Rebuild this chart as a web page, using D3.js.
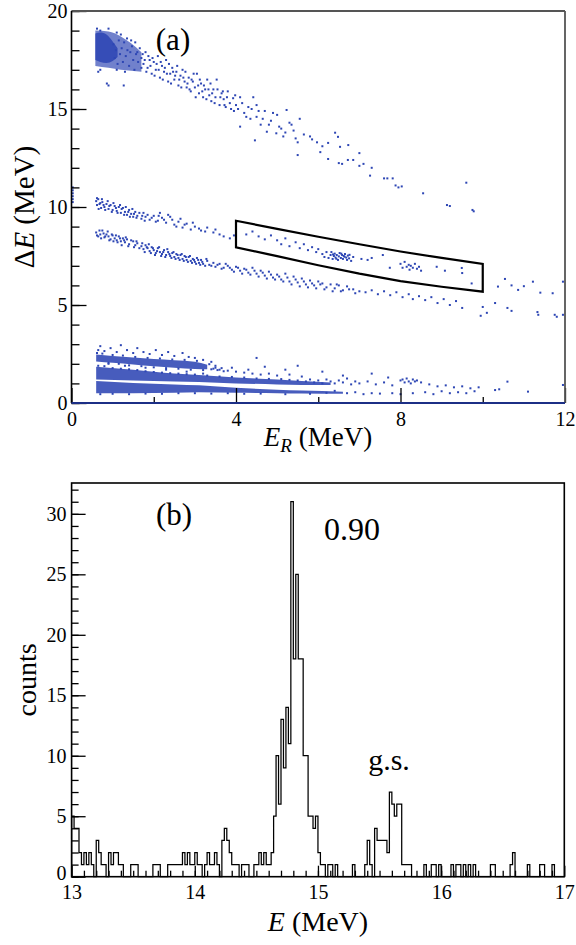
<!DOCTYPE html>
<html>
<head>
<meta charset="utf-8">
<script src="https://cdn.jsdelivr.net/npm/d3@7"></script>
<style>
body{margin:0;background:#fff;}
svg text{font-family:'Liberation Serif','DejaVu Serif','Noto Serif',serif;fill:#000;}
</style>
</head>
<body>
<svg id="fig" width="576" height="945"></svg>
<script>
// ---- panel (a): dE-E scatter ----
// dense cores as [E_R, dE_low, dE_high]
var topCore = [[0.58,17.5,18.85],[0.7,17.4,18.9],[0.85,17.35,18.8],[1.0,17.45,18.45],[1.12,17.65,18.1]];
var topHalo = [[0.58,17.2,19.0],[0.9,17.1,18.95],[1.2,17.0,18.7],[1.45,16.95,18.35],[1.7,16.9,17.9]];
var lowA = [[0.6,2.12,2.48],[1.0,2.05,2.4],[1.5,1.97,2.32],[2.0,1.88,2.24],[2.5,1.8,2.18],[3.0,1.74,2.1],[3.3,1.72,1.95]];
var lowB = [[0.6,1.2,1.85],[1.5,1.15,1.7],[2.5,1.1,1.5],[3.1,1.07,1.43],[4.0,1.0,1.3],[5.0,0.95,1.2],[5.6,0.92,1.12],[6.3,0.92,1.04]];
var lowC = [[0.6,0.5,1.12],[1.5,0.5,1.02],[2.5,0.52,0.95],[3.1,0.55,0.9],[4.0,0.52,0.78],[5.0,0.5,0.68],[5.6,0.48,0.64],[6.6,0.47,0.58]];

var topPts = [[0.62,19.1],[0.7,19.0],[0.9,19.1],[1.1,18.9],[1.2,18.8],[1.35,18.6],[1.45,18.5],[1.55,18.4],
 [0.65,16.9],[0.7,17.0],[0.86,16.3],[0.9,16.2],[1.27,16.2],[1.3,16.9],[1.1,17.0],
 [1.6,17.9],[1.7,17.6],[1.75,17.3],[1.8,17.9],[1.85,17.1],[1.9,17.5],[1.95,16.8],[2.0,17.4],[2.05,17.0],[2.1,17.7],
 [2.15,16.6],[2.2,17.2],[2.25,16.9],[2.3,17.5],[2.35,16.4],[2.4,16.8],[2.45,17.1],[2.5,16.5],[2.55,16.9],[2.6,16.2],
 [2.65,16.7],[2.7,17.0],[2.75,16.4],[2.8,16.1],[2.85,16.6],[2.9,15.9],[2.95,16.4],[3.0,16.1],[3.05,16.8],[3.1,15.8],
 [3.15,16.3],[3.2,15.6],[3.25,16.0],[3.3,16.5],[3.35,15.7],[3.4,15.4],[3.45,16.0],[3.5,15.6],[3.53,16.5],[3.6,15.2],
 [3.65,15.8],[3.7,15.5],[3.75,15.1],[3.8,15.9],[3.85,15.3],[3.93,15.55],[3.95,14.9],[4.0,15.2],[4.1,14.1],[4.1,15.6],
 [4.2,14.8],[4.3,15.1],[4.35,14.5],[4.42,15.6],[4.46,13.4],[4.5,14.6],[4.5,15.2],[4.6,14.2],[4.7,14.9],[4.75,13.84],
 [4.85,14.4],[4.98,13.76],[5.0,14.7],[5.1,14.0],[5.15,13.6],[5.23,14.95],[5.3,14.3],[5.4,13.9],[5.5,12.65],[5.5,13.3],
 [5.55,14.5],[5.65,13.7],[5.8,13.6],[5.85,13.45],[5.97,13.3],[6.05,12.8],[6.1,13.1],[6.24,12.45],[6.24,13.27],[6.41,13.79],
 [6.48,13.58],[6.5,12.24],[6.53,13.07],[6.58,12.2],[6.73,13.16],[6.72,12.4],[6.85,12.4],[7.0,12.1],[7.0,12.75],[7.1,12.2],
 [7.26,11.6],[7.3,12.0],[7.6,11.46],[7.68,11.46],[7.81,11.46],[7.88,11.1],[7.95,11.0],[8.03,11.05],[8.55,10.7],[9.13,10.1],
 [9.2,10.05],[9.6,11.24],[9.75,9.85],[9.78,9.78],
 [1.02,18.3],[1.05,17.6],[1.08,18.0],[1.12,17.3],[1.15,18.5],[1.18,17.8],[1.22,18.1],[1.25,17.4],[1.28,18.4],[1.32,17.7],
 [1.36,18.0],[1.4,17.2],[1.43,17.9],[1.47,18.2],[1.5,17.5],[1.53,17.0],[1.57,17.8],[1.62,17.4],[1.66,18.1],[1.7,17.1],
 [1.73,17.8],[1.78,17.5],[1.82,16.9],[1.87,17.7],[1.92,17.2],[1.97,17.6],[2.02,16.7],[2.07,17.3],[2.12,17.0],[2.17,17.4],
 [2.22,16.5],[2.27,17.1],[2.32,16.8],[2.37,17.3],[2.42,16.3],[2.47,16.9],[2.52,16.7],[2.57,17.2],[2.62,16.5],[2.67,16.1],
 [2.72,16.6],[2.77,16.9],[2.82,16.3],[2.87,16.0],[2.92,16.5],[2.97,16.8],[3.02,15.6],[3.08,16.2],[3.12,16.5],[3.18,15.9],
 [3.22,16.2],[3.28,15.5],[3.33,16.0],[3.38,16.3],[3.42,15.8],[3.48,15.3],[3.55,16.0],[3.62,15.6],[3.68,15.9],[3.72,15.2],
 [3.78,15.6],[3.88,15.0],[3.98,15.7],[4.05,15.0],[4.15,15.3],[4.25,14.6],[4.38,15.0],[4.55,14.9],[4.65,14.5],[4.8,14.2],
 [4.9,14.8],[5.05,14.1],[5.2,13.8],[5.35,14.2],[5.45,13.5]];

var mid1 = [[0.6,10.3],[0.62,10.1],[0.65,10.4],[0.7,10.2],[0.72,9.95],[0.75,10.25],[0.8,10.0],[0.85,10.15],[0.9,9.9],[0.95,10.1],
 [1.0,9.85],[1.05,10.05],[1.1,9.8],[1.15,10.0],[1.2,9.7],[1.25,9.95],[1.3,9.75],[1.35,9.6],[1.4,9.85],[1.45,9.65],
 [1.5,9.5],[1.55,9.75],[1.6,9.55],[1.7,9.4],[1.75,9.7],[1.8,9.5],[1.9,9.35],[2.0,9.55],[2.1,9.3],[2.15,9.7],
 [2.2,9.45],[2.3,9.2],[2.35,9.6],[2.45,9.35],[2.5,9.1],[2.6,9.25],[2.7,8.95],[2.8,9.15],[2.9,8.85],[3.0,9.0],
 [3.15,8.8],[3.3,8.95],[3.45,8.7],[3.6,8.6],[3.85,8.4],[3.95,8.55],
 [0.62,10.45],[0.66,9.9],[0.68,10.15],[0.74,10.4],[0.78,10.1],[0.82,9.85],[0.88,10.3],[0.92,10.05],[0.98,9.75],[1.02,10.2],
 [1.08,9.95],[1.12,9.7],[1.18,10.1],[1.22,9.9],[1.28,9.6],[1.32,10.0],[1.38,9.75],[1.42,9.5],[1.48,9.9],[1.52,9.65],
 [1.58,9.45],[1.65,9.7],[1.72,9.55],[1.78,9.3],[1.85,9.6],[1.95,9.45],[2.05,9.25],[2.12,9.55],[2.25,9.35],[2.4,9.5],
 [2.55,9.0],[2.65,9.4],[2.75,9.1],[2.95,9.2],[3.1,8.9],[3.25,8.75],[3.5,8.85],[3.7,8.5],
 [4.25,8.6],[4.4,8.75],[4.55,8.5],[4.7,8.35],[4.85,8.55],[5.0,8.3],[5.1,8.1],[5.2,8.4],[5.3,8.0],[5.45,8.2],
 [5.55,7.9],[5.65,8.1],[5.75,7.8],[5.85,7.95],[5.95,7.7],[6.0,7.85],
 [6.1,7.6],[6.15,7.45],[6.2,7.7],[6.25,7.4],[6.3,7.55],[6.32,7.7],[6.35,7.35],[6.38,7.5],[6.4,7.62],[6.42,7.42],
 [6.45,7.55],[6.48,7.3],[6.5,7.48],[6.52,7.65],[6.55,7.4],[6.58,7.55],[6.6,7.35],[6.62,7.5],[6.65,7.6],[6.68,7.42],
 [6.7,7.3],[6.72,7.52],[6.75,7.38],[6.8,7.25],[6.85,7.45],[6.36,7.58],[6.44,7.36],[6.56,7.62],[6.64,7.46],[6.76,7.56],
 [7.05,7.35],[7.2,7.3],[7.3,7.4],[7.57,7.55],[7.74,6.9],
 [8.0,7.1],[8.05,6.9],[8.1,7.2],[8.15,6.95],[8.2,7.05],[8.22,6.8],[8.25,7.0],[8.3,6.9],[8.35,7.1],[8.4,6.85],
 [8.45,6.95],[8.5,6.75],[8.88,6.95],[9.08,6.75],[9.49,6.89],[9.5,6.63],[9.73,6.1],
 [10.37,5.94],[10.54,6.33],[10.7,6.0],[10.86,5.77],[11.0,5.96],[11.22,6.19],[11.4,5.63],[11.7,5.6],[11.95,6.19]];

var mid2 = [[0.6,8.7],[0.65,8.5],[0.7,8.6],[0.75,8.8],[0.8,8.45],[0.85,8.6],[0.9,8.5],[0.95,8.35],[1.0,8.55],[1.05,8.4],
 [1.1,8.3],[1.15,8.5],[1.2,8.25],[1.25,8.4],[1.3,8.2],[1.35,8.35],[1.4,8.1],[1.5,8.25],[1.55,8.05],[1.6,8.15],
 [1.7,8.0],[1.75,7.85],[1.8,8.05],[1.85,7.9],[1.9,7.75],[1.95,7.95],[2.0,7.8],[2.05,7.65],[2.1,7.9],[2.15,7.7],
 [2.2,7.6],[2.25,7.8],[2.3,7.55],[2.35,7.7],[2.4,7.5],[2.45,7.65],[2.5,7.45],[2.55,7.6],[2.6,7.4],[2.65,7.55],
 [2.7,7.35],[2.75,7.5],[2.8,7.3],[2.85,7.45],[2.9,7.25],[2.95,7.35],[3.0,7.2],[3.05,7.4],[3.1,7.15],[3.15,7.3],
 [3.2,7.1],[3.3,7.25],[3.35,7.05],[3.45,7.15],[3.5,6.95],[3.6,7.1],[3.7,6.9],[3.8,7.0],[3.9,6.8],[4.0,6.95],
 [4.1,6.75],[4.2,6.85],[4.3,6.65],[4.4,6.9],[4.5,6.6],[4.6,6.75],[4.7,6.5],[4.8,6.7],[4.9,6.4],[5.0,6.55],
 [5.1,6.3],[5.2,6.6],[5.3,6.2],[5.4,6.45],[5.5,6.15],[5.6,6.35],[5.7,6.05],[5.8,6.25],[5.9,6.0],[6.0,6.2],
 [6.1,6.1],[6.2,5.9],[6.3,6.05],[6.4,5.85],[6.5,6.0],[6.6,5.75],[6.7,5.95],[6.85,5.8],[7.0,5.7],[7.3,5.75],
 [7.45,5.55],[7.6,5.7],[7.75,5.5],[7.9,5.65],[8.05,5.4],[8.2,5.55],[8.3,5.3],[8.45,5.45],[8.6,5.25],[8.75,5.4],
 [8.9,5.1],[9.05,5.3],[9.2,5.0],[9.35,5.2],[9.5,4.85],[9.95,4.45],[10.0,4.9],[10.1,4.6],[10.3,5.1],[10.6,4.85],
 [10.7,4.7],[11.33,4.64],[11.35,4.5],[11.75,4.5],[11.8,4.4],[11.95,4.5],
 [0.62,8.55],[0.68,8.8],[0.72,8.4],[0.78,8.65],[0.82,8.5],[0.88,8.75],[0.92,8.3],[0.98,8.6],[1.02,8.25],[1.08,8.55],
 [1.12,8.2],[1.18,8.4],[1.22,8.05],[1.28,8.3],[1.32,8.45],[1.38,8.0],[1.45,8.3],[1.52,7.95],[1.58,8.25],[1.65,7.9],
 [1.72,8.15],[1.78,7.7],[1.83,7.95],[1.88,8.1],[1.93,7.65],[1.98,7.9],[2.03,7.55],[2.08,7.75],[2.13,7.95],[2.18,7.5],
 [2.23,7.7],[2.28,7.45],[2.33,7.85],[2.38,7.6],[2.43,7.4],[2.48,7.7],[2.53,7.35],[2.58,7.55],[2.63,7.3],[2.68,7.6],
 [2.73,7.25],[2.78,7.45],[2.83,7.2],[2.88,7.5],[2.93,7.15],[2.98,7.3],[3.03,7.1],[3.08,7.3],[3.13,7.05],[3.18,7.2],
 [3.25,7.0],[3.28,7.35],[3.4,7.0],[3.55,7.05],[3.65,6.85],[3.75,7.1],[3.85,6.9],[3.95,6.7],[4.05,6.9],[4.15,6.6],
 [4.25,6.8],[4.35,6.55],[4.45,6.75],[4.55,6.45],[4.65,6.65],[4.75,6.35],[4.85,6.55],[4.95,6.3],[5.05,6.45],[5.15,6.2],
 [5.25,6.4],[5.35,6.05],[5.45,6.3],[5.55,5.95],[5.65,6.2],[5.75,5.9],[5.85,6.1],[5.95,5.85],[6.05,6.05],[6.15,5.8],
 [6.35,5.7],[6.45,6.05],[6.55,5.7],[6.75,5.8],[6.9,5.6],[7.15,5.65]];

var lowPts = [[0.65,2.7],[0.7,2.9],[0.8,2.65],[0.95,2.8],[1.1,2.6],[1.2,2.95],[1.35,2.7],[1.5,2.55],[1.6,2.8],[1.75,2.6],
 [1.9,2.5],[2.05,2.7],[2.2,2.45],[2.35,2.6],[2.5,2.4],[2.7,2.55],[2.85,2.35],[3.0,2.3],[3.2,2.2],[3.4,2.1],
 [0.9,2.0],[1.3,1.9],[1.8,1.8],[2.3,1.7],[2.8,1.6],[3.2,1.5],
 [3.45,1.75],[3.6,1.7],[3.8,1.65],[4.0,1.6],[4.2,1.55],[4.4,1.5],[4.6,1.45],[4.8,1.5],[5.0,1.4],[5.3,1.45],
 [5.6,1.35],[3.5,1.9],[3.9,1.8],[4.3,1.7],[4.5,2.3],[4.7,1.85],
 [5.7,1.1],[5.8,1.2],[5.9,1.05],[6.0,1.15],[6.1,1.0],[6.2,1.2],[6.3,1.1],[6.4,1.0],[6.5,1.15],[6.6,1.05],
 [6.7,1.25],[6.8,0.95],[6.9,1.1],[7.0,1.0],[7.2,1.1],[7.4,0.95],[7.6,1.05],[7.8,0.9],[8.0,1.15],[8.05,1.2],
 [8.1,1.05],[8.15,1.25],[8.2,1.1],[8.25,1.0],[8.3,1.2],[8.35,1.1],[8.4,1.15],[8.5,1.05],[8.7,0.95],[8.9,0.85],
 [9.1,0.9],[9.3,0.8],[9.5,0.85],[9.7,0.75],[9.9,0.8],[10.4,0.7],[10.6,1.09],[10.3,0.66],[11.1,0.58],[11.95,0.92],
 [6.7,0.5],[6.9,0.55],[7.1,0.45],[7.3,0.5],[7.5,0.48],[7.8,0.5],[8.0,0.45],[8.3,0.5],[8.6,0.55],[8.8,0.45],
 [9.0,0.6],[9.2,0.5],[9.4,0.55],[9.6,0.5],[9.8,0.6],
 [5.2,1.7],[6.1,1.6],[5.5,1.9],[7.7,1.3],[6.6,1.4],[7.3,1.5],
 [0.62,2.55],[0.75,2.52],[0.9,2.05],[1.0,2.45],[1.15,2.0],[1.25,2.42],[1.4,1.92],[1.55,2.35],[1.7,1.88],[1.85,2.3],
 [2.0,1.82],[2.15,2.27],[2.3,1.78],[2.45,2.22],[2.6,1.75],[2.75,2.2],[2.9,1.7],[3.05,2.15],[3.2,1.68],[3.35,1.98],
 [3.4,1.72],[3.5,1.8],[3.55,1.68],[3.65,1.78],[3.7,1.62],
 [0.65,1.9],[0.8,1.88],[1.0,1.78],[1.2,1.75],[1.4,1.72],[1.6,1.68],[1.8,1.62],[2.0,1.58],[2.2,1.55],[2.4,1.52],
 [2.6,1.5],[2.8,1.47],[3.0,1.45],[3.3,1.4],[3.6,1.35],[3.9,1.33],[4.2,1.3],[4.5,1.25],[4.8,1.23],[5.1,1.22],
 [5.3,1.18],[5.5,1.15],
 [0.7,0.45],[1.0,0.47],[1.4,0.45],[1.8,0.48],[2.2,0.47],[2.6,0.5],[3.0,0.5],[3.4,0.48],[3.8,0.5],[4.2,0.47],
 [4.6,0.48],[5.2,0.45],[5.8,0.47],[6.2,0.52],[6.4,0.62],
 [0.03,10.25],[0.03,10.4],[0.03,10.55],[0.03,10.7],[0.03,10.85],[0.03,11.0]];

// graphical cut drawn in (a)
var cutTop = [[4,9.3],[5,8.88],[6,8.48],[7,8.1],[8,7.73],[9,7.4],[10,7.09]];
var cutBottom = [[4,7.94],[5,7.49],[6,7.03],[7,6.6],[8,6.22],[9,5.93],[10,5.68]];

// ---- panel (b): histogram, 200 bins of 0.02 MeV from 13 to 17 ----
var binStart = 13, binWidth = 0.02;
var counts = [
 5,4,4,2,1,2,1,2,1,0, 3,2,1,1,0,2,1,2,2,1, 1,0,0,0,1,1,1,0,0,0, 0,0,0,1,1,1,0,0,0,1, 1,1,1,1,1,2,1,2,1,1,
 2,1,1,0,1,2,1,1,2,1, 0,3,4,3,2,1,1,1,0,1, 1,1,0,0,1,1,2,1,2,1, 1,2,5,10,6,13,9,14,11,31, 18,25,18,18,10,10,5,5,4,5,
 2,1,1,0,1,1,0,1,0,0, 0,0,0,0,1,0,0,0,0,1, 3,1,0,4,3,3,3,3,2,7, 6,5,6,6,1,1,1,1,0,0, 0,0,0,1,0,0,1,1,0,1,
 0,0,0,0,1,0,1,1,0,1, 0,1,0,1,0,0,0,0,0,0, 1,1,0,0,0,0,0,0,1,2, 0,0,0,0,0,1,0,0,0,0, 1,1,0,0,0,1,0,0,0,0];

var yTicksA = [0,5,10,15,20];
var xTicksA = [0,4,8,12];
var yTicksB = [0,5,10,15,20,25,30];
var xTicksB = [13,14,15,16,17];

var svg = d3.select('#fig');
var blue = '#2d46b4';
var serif = "'Liberation Serif','DejaVu Serif','Noto Serif',serif";

// ===== panel a =====
var xa = d3.scaleLinear().domain([0,12]).range([71.5,565]);
var ya = d3.scaleLinear().domain([0,20]).range([403,11]);
var ga = svg.append('g');

var band = d3.area()
	.x(function(d){ return xa(d[0]); })
	.y0(function(d){ return ya(d[1]); })
	.y1(function(d){ return ya(d[2]); })
	.curve(d3.curveMonotoneX);

ga.append('path').attr('d', band(topHalo)).attr('fill', blue).attr('opacity', 0.68);
[topCore, lowA, lowB, lowC].forEach(function(b){
	ga.append('path').attr('d', band(b)).attr('fill', blue).attr('opacity', 0.88);
});

var pts = topPts.concat(mid1, mid2, lowPts);
ga.append('g').selectAll('rect')
	.data(pts)
	.join('rect')
	.attr('x', function(d){ return xa(d[0]) - 1; })
	.attr('y', function(d){ return ya(d[1]) - 1; })
	.attr('width', 2)
	.attr('height', 2)
	.attr('fill', blue);

var cutLine = d3.line()
	.x(function(d){ return xa(d[0]); })
	.y(function(d){ return ya(d[1]); });
ga.append('path')
	.attr('d', cutLine(cutTop.concat(cutBottom.slice().reverse())) + 'Z')
	.attr('fill', 'none')
	.attr('stroke', '#000')
	.attr('stroke-width', 2.2);

function styleAxis(g){
	g.attr('font-size', 20).attr('font-family', serif);
	g.select('.domain').remove();
	g.selectAll('line').attr('stroke-width', 1.3);
}

// minor / major ticks, pointing inwards
ga.append('g').attr('transform', 'translate(71.5,0)')
	.call(d3.axisLeft(ya).tickValues(d3.range(0, 21, 1)).tickSize(-8).tickFormat(''))
	.call(styleAxis);
ga.append('g').attr('transform', 'translate(71.5,0)')
	.call(d3.axisLeft(ya).tickValues(yTicksA).tickSize(-15).tickPadding(4).tickFormat(d3.format('d')))
	.call(styleAxis);
ga.append('g').attr('transform', 'translate(0,403)')
	.call(d3.axisBottom(xa).tickValues([2,6,10]).tickSize(-6).tickFormat(''))
	.call(styleAxis);
ga.append('g').attr('transform', 'translate(0,403)')
	.call(d3.axisBottom(xa).tickValues(xTicksA).tickSize(-15).tickPadding(9).tickFormat(d3.format('d')))
	.call(styleAxis);

// frame
ga.append('line').attr('x1',71.5).attr('x2',565).attr('y1',11).attr('y2',11).attr('stroke','#555').attr('stroke-width',1.8);
ga.append('line').attr('x1',565).attr('x2',565).attr('y1',11).attr('y2',403).attr('stroke','#555').attr('stroke-width',1.8);
ga.append('line').attr('x1',71.5).attr('x2',71.5).attr('y1',11).attr('y2',403).attr('stroke','#000').attr('stroke-width',1.6);
ga.append('line').attr('x1',71.5).attr('x2',565).attr('y1',403).attr('y2',403).attr('stroke','#1c2f86').attr('stroke-width',1.8);

ga.append('text').attr('x', 173).attr('y', 50).attr('text-anchor', 'middle').attr('font-size', 31).text('(a)');

var yl = ga.append('text').attr('transform', 'translate(34,207) rotate(-90)').attr('text-anchor', 'middle').attr('font-size', 29);
yl.append('tspan').text('\u0394');
yl.append('tspan').attr('font-style', 'italic').text('E');
yl.append('tspan').text(' (MeV)');

var xl = ga.append('text').attr('x', 318).attr('y', 446).attr('text-anchor', 'middle').attr('font-size', 27);
xl.append('tspan').attr('font-style', 'italic').text('E');
xl.append('tspan').attr('font-style', 'italic').attr('font-size', 19).attr('dy', 6).text('R');
xl.append('tspan').attr('dy', -6).text(' (MeV)');

// ===== panel b =====
var xb = d3.scaleLinear().domain([13,17]).range([71.6,564.3]);
var yb = d3.scaleLinear().domain([0,32.55]).range([876.7,483]);
var gb = svg.append('g');

var histPts = [[binStart, 0]];
counts.forEach(function(c, i){ histPts.push([binStart + i*binWidth, c]); });
histPts.push([binStart + counts.length*binWidth, 0]);

var step = d3.line()
	.x(function(d){ return xb(d[0]); })
	.y(function(d){ return yb(d[1]); })
	.curve(d3.curveStepAfter);
gb.append('path').attr('d', step(histPts)).attr('fill', 'none').attr('stroke', '#000').attr('stroke-width', 1.25);

gb.append('g').attr('transform', 'translate(71.6,0)')
	.call(d3.axisLeft(yb).tickValues(d3.range(0, 33, 1)).tickSize(-7).tickFormat(''))
	.call(styleAxis);
var yAxB = gb.append('g').attr('transform', 'translate(71.6,0)')
	.call(d3.axisLeft(yb).tickValues(yTicksB).tickSize(-14).tickPadding(5).tickFormat(d3.format('d')))
	.call(styleAxis);
// lowest label sits a little higher, clear of the "13"
yAxB.selectAll('.tick').filter(function(d){ return d === 0; }).select('text').attr('y', -4);
gb.append('g').attr('transform', 'translate(0,876.7)')
	.call(d3.axisBottom(xb).tickValues(d3.range(131, 170, 1).map(function(v){ return v/10; })).tickSize(-6).tickFormat(''))
	.call(styleAxis);
gb.append('g').attr('transform', 'translate(0,876.7)')
	.call(d3.axisBottom(xb).tickValues(xTicksB).tickSize(-11).tickPadding(8).tickFormat(d3.format('d')))
	.call(styleAxis);

gb.append('rect').attr('x', 71.6).attr('y', 483).attr('width', 564.3-71.6).attr('height', 876.7-483)
	.attr('fill', 'none').attr('stroke', '#000').attr('stroke-width', 1.6);

gb.append('text').attr('x', 174).attr('y', 525).attr('text-anchor', 'middle').attr('font-size', 31).text('(b)');
gb.append('text').attr('x', 352).attr('y', 540).attr('text-anchor', 'middle').attr('font-size', 32).text('0.90');
gb.append('text').attr('x', 389).attr('y', 770).attr('text-anchor', 'middle').attr('font-size', 30).text('g.s.');

gb.append('text').attr('transform', 'translate(36,680) rotate(-90)').attr('text-anchor', 'middle').attr('font-size', 28).text('counts');
var xl2 = gb.append('text').attr('x', 318).attr('y', 931).attr('text-anchor', 'middle').attr('font-size', 28);
xl2.append('tspan').attr('font-style', 'italic').text('E');
xl2.append('tspan').text(' (MeV)');
</script>
</body>
</html>
